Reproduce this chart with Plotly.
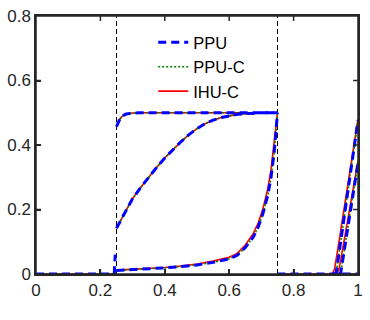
import plotly.graph_objects as go

# snapshots (x in [0,1], values in [0,0.8])
# flat zero parts
left_x = [0, 0.25]
left_y = [0, 0]
left_x_ppu = [0, 0.243, 0.246]      # PPU shows a small spike just before x=0.25
left_y_ppu = [0, 0, 0.06]
right_zero_x = [0.75, 1.0]
right_zero_y = [0, 0]

# upper curve
up_x = [0.25, 0.255, 0.26, 0.265, 0.27, 0.28, 0.29, 0.3, 0.32, 0.4, 0.5, 0.6, 0.7, 0.75]
up_y = [0.457, 0.47, 0.48, 0.486, 0.491, 0.496, 0.498, 0.499, 0.5, 0.5, 0.5, 0.5, 0.5, 0.5]

# middle curve
mid_x = [0.25, 0.275, 0.3, 0.325, 0.35, 0.375, 0.4, 0.425, 0.45, 0.475, 0.5,
         0.525, 0.55, 0.575, 0.6, 0.625, 0.65, 0.675, 0.7, 0.75]
mid_y = [0.142, 0.19, 0.234, 0.268, 0.3, 0.331, 0.36, 0.386, 0.41, 0.432, 0.451,
         0.466, 0.477, 0.485, 0.491, 0.495, 0.497, 0.499, 0.5, 0.5]

# lower curve
low_x = [0.25, 0.3, 0.35, 0.4, 0.45, 0.5, 0.55, 0.6, 0.625, 0.65, 0.675,
         0.69, 0.705, 0.72, 0.73, 0.74, 0.745, 0.75]
low_y = [0.011, 0.013, 0.016, 0.019, 0.023, 0.028, 0.036, 0.047, 0.058, 0.082, 0.115,
         0.145, 0.188, 0.245, 0.3, 0.38, 0.44, 0.5]
low_x_ihu = [0.25, 0.3, 0.35, 0.4, 0.45, 0.5, 0.55, 0.6, 0.625, 0.65, 0.675,
             0.69, 0.705, 0.72, 0.73, 0.74, 0.745, 0.75]
low_y_ihu = [0.012, 0.014, 0.017, 0.02, 0.025, 0.031, 0.04, 0.052, 0.064, 0.09, 0.126,
             0.158, 0.203, 0.265, 0.325, 0.41, 0.46, 0.5]

# lines re-entering near x=1
r1_x = [0.925, 0.932, 0.94, 1.0]
r1_y = [0, 0.003, 0.056, 0.477]
r2_x = [0.94, 0.946, 0.955, 1.0]
r2_y = [0, 0.002, 0.058, 0.345]
r1_x_ihu = [0.92, 0.927, 0.937, 1.0]
r1_y_ihu = [0, 0.015, 0.075, 0.48]
r2_x_ihu = [0.934, 0.941, 0.951, 1.0]
r2_y_ihu = [0, 0.015, 0.07, 0.35]

# vertical marker lines
marks_x = [0.25, 0.75]

xticks = [0, 0.2, 0.4, 0.6, 0.8, 1]
xtick_text = ["0", "0.2", "0.4", "0.6", "0.8", "1"]
yticks = [0, 0.2, 0.4, 0.6, 0.8]
ytick_text = ["0", "0.2", "0.4", "0.6", "0.8"]

W, H = 370, 320
M = dict(l=36, r=7, t=16, b=46)
AX = "#262626"
TICK_PX = 5


def join(segs):
    # glue segments with None gaps so one trace = one legend entry
    xs, ys = [], []
    for sx, sy in segs:
        xs += list(sx) + [None]
        ys += list(sy) + [None]
    return xs, ys


fig = go.Figure()

# dashed separators
for mx in marks_x:
    fig.add_trace(go.Scatter(x=[mx, mx], y=[0, 0.8], mode="lines", showlegend=False,
                             line=dict(color="black", width=1, dash="5px,3px")))

ihu_x, ihu_y = join([(left_x, left_y), (up_x, up_y), (mid_x, mid_y), (low_x_ihu, low_y_ihu),
                     (right_zero_x, right_zero_y), (r1_x_ihu, r1_y_ihu), (r2_x_ihu, r2_y_ihu)])
ppuc_x, ppuc_y = join([(left_x, left_y), (up_x, up_y), (mid_x, mid_y), (low_x, low_y),
                       (right_zero_x, right_zero_y), (r1_x, r1_y), (r2_x, r2_y)])
ppu_x, ppu_y = join([(left_x_ppu, left_y_ppu), (up_x, up_y), (mid_x, mid_y), (low_x, low_y),
                     (right_zero_x, right_zero_y), (r1_x, r1_y), (r2_x, r2_y)])

fig.add_trace(go.Scatter(x=ihu_x, y=ihu_y, mode="lines", name="IHU-C", legendrank=3,
                         line=dict(color="#ff0000", width=1.6)))
fig.add_trace(go.Scatter(x=ppuc_x, y=ppuc_y, mode="lines", name="PPU-C", legendrank=2,
                         line=dict(color="#008000", width=1.6, dash="2px,2px")))
fig.add_trace(go.Scatter(x=ppu_x, y=ppu_y, mode="lines", name="PPU", legendrank=1,
                         line=dict(color="#0000ff", width=3, dash="8px,5px")))

axis_style = dict(showline=True, linecolor=AX, linewidth=1.5, mirror=True,
                  ticks="inside", ticklen=TICK_PX, tickwidth=1.5, tickcolor=AX,
                  showgrid=False, zeroline=False,
                  tickfont=dict(family="Liberation Sans, Arial", size=17, color=AX))

fig.update_xaxes(range=[0, 1], tickvals=xticks, ticktext=xtick_text, **axis_style)
fig.update_yaxes(range=[0, 0.8], tickvals=yticks, ticktext=ytick_text, **axis_style)

# box and inside ticks on all four sides (MATLAB style), as shapes on top
plot_w = W - M["l"] - M["r"]
plot_h = H - M["t"] - M["b"]
fig.add_shape(type="rect", xref="paper", yref="paper", x0=0, x1=1, y0=0, y1=1,
              line=dict(color=AX, width=1.5), layer="above")
tx = TICK_PX / plot_h
for t in xticks[1:-1]:
    fig.add_shape(type="line", xref="x", yref="paper", x0=t, x1=t, y0=0, y1=tx,
                  line=dict(color=AX, width=1.5), layer="above")
    fig.add_shape(type="line", xref="x", yref="paper", x0=t, x1=t, y0=1 - tx, y1=1,
                  line=dict(color=AX, width=1.5), layer="above")
ty = TICK_PX / plot_w
for t in yticks[1:-1]:
    fig.add_shape(type="line", xref="paper", yref="y", x0=0, x1=ty, y0=t, y1=t,
                  line=dict(color=AX, width=1.5), layer="above")
    fig.add_shape(type="line", xref="paper", yref="y", x0=1 - ty, x1=1, y0=t, y1=t,
                  line=dict(color=AX, width=1.5), layer="above")

fig.update_layout(
    width=W, height=H,
    margin=dict(**M, pad=0),
    paper_bgcolor="white", plot_bgcolor="white",
    legend=dict(x=0.364, y=0.965, xanchor="left", yanchor="top",
                bgcolor="rgba(0,0,0,0)", tracegroupgap=0,
                font=dict(family="Liberation Sans, Arial", size=16.5, color="black")),
)

# page has a default body margin; drop it so the figure sits at the window origin
fig.write_html("out.html", config={"displayModeBar": False},
               post_script="document.body.style.margin='0';document.body.style.overflow='hidden';")
